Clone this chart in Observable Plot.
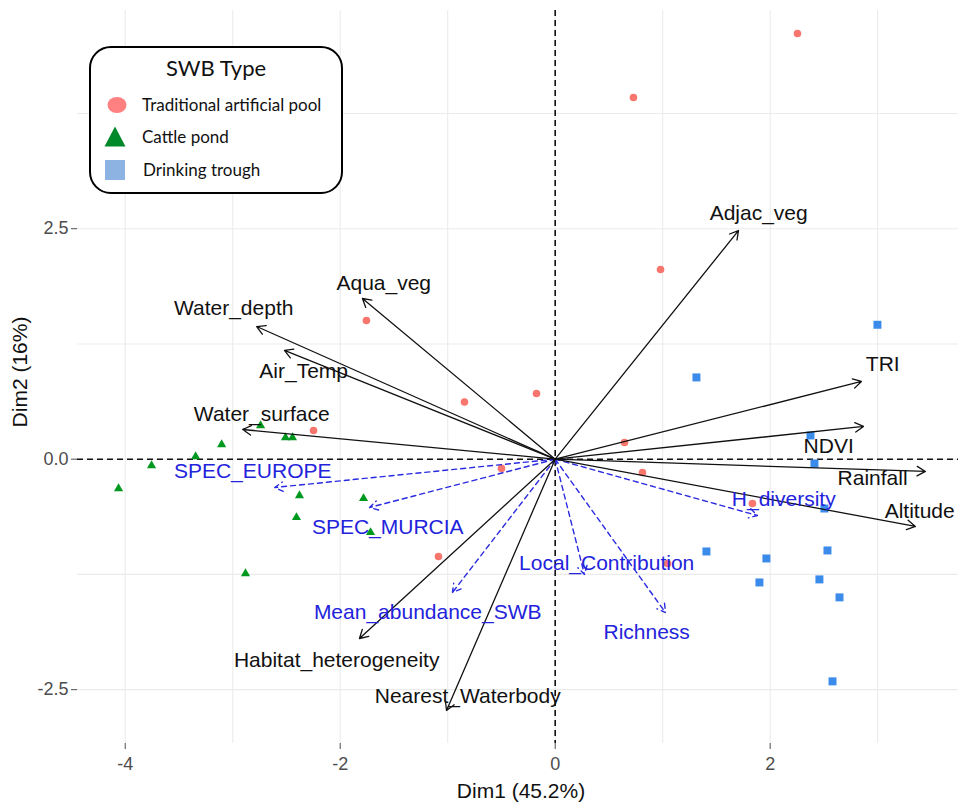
<!DOCTYPE html>
<html>
<head>
<meta charset="utf-8">
<script src="https://cdn.jsdelivr.net/npm/d3@7"></script>
<script src="https://cdn.jsdelivr.net/npm/@observablehq/plot@0.6"></script>
<style>
  body { margin: 0; background: #fff; }
  #wrap { position: relative; width: 958px; height: 805px; overflow: hidden; }
  #legend { position: absolute; left: 89px; top: 46px; width: 254px; height: 148px; box-sizing: border-box;
            border: 2.5px solid #000; border-radius: 22px; background: #fff;
            font-family: Lato, "Open Sans", sans-serif; color: #111; }
  #legend .title { position: absolute; left: 0; right: 0; top: 8px; text-align: center; font-size: 22px; line-height: 24px; }
  #legend .item { position: absolute; left: 51px; font-size: 17px; line-height: 20px; white-space: nowrap; }
  #legend svg { position: absolute; overflow: visible; }
</style>
</head>
<body>
<div id="wrap"></div>
<script>
// ---- Data ----
const legendTitle = "SWB Type";
const groups = ["Traditional artificial pool", "Cattle pond", "Drinking trough"];

// Individuals: Traditional artificial pool
const poolX = [2.254, 0.728, 0.980, -1.756, -0.844, -0.174, -2.248, 0.645, -0.500, 0.812, 1.835, -1.086, 1.045];
const poolY = [4.617, 3.923, 2.057, 1.504, 0.620, 0.713, 0.311, 0.181, -0.100, -0.144, -0.480, -1.055, -1.131];
// Cattle pond
const pondX = [-4.062, -3.755, -3.345, -3.103, -2.741, -2.509, -2.444, -2.379, -2.407, -1.783, -1.718, -2.881];
const pondY = [-0.319, -0.069, 0.029, 0.159, 0.365, 0.235, 0.235, -0.394, -0.632, -0.426, -0.795, -1.240];
// Drinking trough
const troughX = [2.998, 1.314, 2.375, 2.412, 2.505, 1.407, 1.965, 2.533, 1.900, 2.458, 2.645, 2.580];
const troughY = [1.458, 0.887, 0.257, -0.047, -0.535, -1.001, -1.077, -0.990, -1.337, -1.304, -1.499, -2.410];

// Environmental variables (solid black arrows)
const envNames = ["Adjac_veg", "Aqua_veg", "Water_depth", "Air_Temp", "Water_surface", "TRI", "NDVI", "Rainfall", "Altitude", "Habitat_heterogeneity", "Nearest_Waterbody"];
const envX = [1.705, -1.793, -2.777, -2.519, -2.907, 2.849, 2.868, 3.444, 3.351, -1.821, -1.011];
const envY = [2.480, 1.743, 1.439, 1.180, 0.322, 0.843, 0.355, -0.133, -0.730, -1.945, -2.726];
const envLabelX = [1.893, -1.595, -2.991, -2.340, -2.730, 3.047, 2.544, 2.953, 3.391, -2.033, -0.814];
const envLabelY = [2.665, 1.905, 1.634, 0.951, 0.485, 1.027, 0.138, -0.209, -0.567, -2.183, -2.574];

// Supplementary (species) variables (dashed blue arrows)
const spNames = ["SPEC_EUROPE", "SPEC_MURCIA", "Mean_abundance_SWB", "Local_Contribution", "Richness", "H_diversity"];
const spX = [-2.609, -1.727, -0.956, 0.272, 1.026, 1.881];
const spY = [-0.307, -0.524, -1.446, -1.250, -1.664, -0.611];
const spLabelX = [-2.814, -1.558, -1.186, 0.479, 0.851, 2.126];
const spLabelY = [-0.133, -0.741, -1.663, -1.131, -1.879, -0.437];

// Axes
const xTicks = [-4, -2, 0, 2];
const yTicks = [-2.5, 0, 2.5];
const xGrid = [-4, -3, -2, -1, 0, 1, 2, 3];
const yGrid = [-2.5, -1.25, 0, 1.25, 2.5, 3.75];
const xTitle = "Dim1 (45.2%)";
const yTitle = "Dim2 (16%)";

// ---- Build tables ----
const zip = (xs, ys) => xs.map((x, i) => ({x, y: ys[i]}));
const pools = zip(poolX, poolY);
const ponds = zip(pondX, pondY);
const troughs = zip(troughX, troughY);
const env = envNames.map((n, i) => ({name: n, x: envX[i], y: envY[i], lx: envLabelX[i], ly: envLabelY[i]}));
const sp = spNames.map((n, i) => ({name: n, x: spX[i], y: spY[i], lx: spLabelX[i], ly: spLabelY[i]}));

const poolColor = "#F8766D", pondColor = "#00991F", troughColor = "#3B8BEB";
const blueText = "#2323DB";

const plot = Plot.plot({
  width: 958,
  height: 805,
  marginTop: 10,
  marginBottom: 62,
  marginLeft: 77,
  marginRight: 0,
  style: {fontFamily: "'Liberation Sans', Arial, sans-serif", background: "#fff", overflow: "visible"},
  x: {domain: [-4.444, 3.752]},
  y: {domain: [-3.084, 4.867]},
  marks: [
    Plot.ruleX(xGrid, {stroke: "#ebebeb", strokeWidth: 1.1}),
    Plot.ruleY(yGrid, {stroke: "#ebebeb", strokeWidth: 1.1}),
    Plot.axisX(xTicks, {tickSize: 6, tickPadding: 8, fontSize: 18, color: "#4d4d4d", label: null, tickFormat: d => String(d)}),
    Plot.axisY(yTicks, {tickSize: 6, tickPadding: 3, fontSize: 18, color: "#4d4d4d", label: null, tickFormat: d => d.toFixed(1)}),
    Plot.text([xTitle], {frameAnchor: "bottom", dx: 3, dy: 48, lineAnchor: "middle", fontSize: 21, fill: "#111"}),
    Plot.text([yTitle], {frameAnchor: "left", dx: -57, dy: -5, rotate: -90, textAnchor: "middle", lineAnchor: "middle", fontSize: 21, fill: "#111"}),
    Plot.ruleX([0], {stroke: "#111", strokeWidth: 1.6, strokeDasharray: "6,4"}),
    Plot.ruleY([0], {stroke: "#111", strokeWidth: 1.6, strokeDasharray: "6,4"}),
    Plot.dot(pools, {x: "x", y: "y", r: 3.8, fill: poolColor, symbol: "circle"}),
    Plot.dot(ponds, {x: "x", y: "y", r: 3.4, fill: pondColor, symbol: "triangle"}),
    Plot.dot(troughs, {x: "x", y: "y", r: 4.5, fill: troughColor, symbol: "square"}),
    Plot.arrow(sp, {x1: () => 0, y1: () => 0, x2: "x", y2: "y", stroke: "#2a2ae0", strokeWidth: 1.4, strokeDasharray: "5,4", headLength: 10, headAngle: 60}),
    Plot.arrow(env, {x1: () => 0, y1: () => 0, x2: "x", y2: "y", stroke: "#111", strokeWidth: 1.3, headLength: 11, headAngle: 60}),
    Plot.text(env, {x: "lx", y: "ly", text: "name", fontSize: 21, fill: "#111"}),
    Plot.text(sp, {x: "lx", y: "ly", text: "name", fontSize: 21, fill: blueText})
  ]
});

const wrap = document.getElementById("wrap");
wrap.appendChild(plot);

// ---- Legend (drawn as an overlay box) ----
const legend = document.createElement("div");
legend.id = "legend";
const symSvg = (cx, cy, inner) => `<svg width="1" height="1" style="left:${cx}px;top:${cy}px">${inner}</svg>`;
legend.innerHTML =
  `<div class="title">${legendTitle}</div>` +
  symSvg(26, 57, `<ellipse cx="0" cy="0" rx="9.5" ry="8" fill="#FF8080"/>`) +
  `<div class="item" style="top:47px">${groups[0]}</div>` +
  symSvg(24, 89, `<path d="M0,-10.5 L10.5,9.5 L-10.5,9.5 Z" fill="#00892A"/>`) +
  `<div class="item" style="top:79px">${groups[1]}</div>` +
  symSvg(24, 122, `<rect x="-10" y="-10" width="20" height="20" fill="#8DB3E2"/>`) +
  `<div class="item" style="top:112px;left:52px">${groups[2]}</div>`;
wrap.appendChild(legend);
</script>
</body>
</html>
